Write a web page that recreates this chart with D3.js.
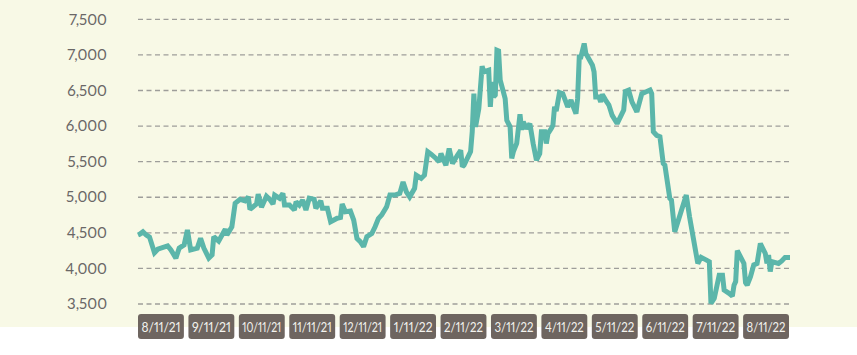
<!DOCTYPE html>
<html><head><meta charset="utf-8">
<script src="https://cdn.jsdelivr.net/npm/d3@7"></script>
<style>body{margin:0;background:#fff} text{font-feature-settings:"pnum" 1;font-variant-numeric:proportional-nums}</style>
</head><body><svg id="c" width="857" height="355"></svg>
<script>
// days since 8/11/21
const days = [0,1,3,5,7,10,12,18,20,23,25,28,30,32,36,38,40,43,45,46,49,53,54,57,59,62,65,67,68,72,73,75,78,80,82,83,86,88,89,92,95,96,98,100,102,104,107,108,111,112,115,117,121,123,124,126,129,131,133,135,137,139,142,144,146,148,151,153,156,159,161,163,165,168,169,172,174,176,178,181,183,184,187,189,191,194,196,197,198,202,203,204,205,207,209,210,213,214,215,216,217,218,219,220,223,224,226,227,228,230,232,233,234,236,238,240,242,244,245,247,248,249,251,252,253,254,256,258,261,263,264,266,267,268,269,271,272,276,277,278,280,281,282,284,286,288,291,293,295,296,298,300,303,306,309,311,312,313,315,317,319,320,323,324,326,333,335,340,342,345,347,348,350,353,355,356,359,361,362,363,364,368,369,370,372,374,376,378,381,382,383,384,385,389,391,393,396];
const values = [4470,4480,4515,4470,4440,4220,4270,4315,4260,4145,4285,4330,4540,4260,4285,4425,4285,4145,4190,4445,4385,4550,4470,4585,4915,4970,4950,5005,4830,4905,5045,4860,5015,4970,4905,5030,4985,5055,4890,4890,4820,4935,4890,4960,4820,4985,4970,4845,4950,4845,4845,4655,4705,4715,4905,4795,4805,4680,4420,4375,4305,4445,4490,4585,4700,4750,4865,5030,5030,5055,5215,5075,5005,5125,5310,5265,5310,5640,5605,5545,5497,5615,5450,5685,5475,5590,5660,5427,5450,5640,5920,6455,5990,6245,6840,6760,6785,6270,6620,6410,6435,7065,7055,6645,6385,6080,5990,5545,5640,5755,6165,5950,6060,5965,6035,5755,5520,5615,5920,5920,5755,5895,5965,6010,6270,6210,6470,6455,6270,6365,6295,6175,6385,6970,6970,7160,7020,6855,6760,6410,6410,6340,6445,6365,6295,6150,6035,6130,6225,6485,6505,6340,6200,6455,6485,6505,6455,5920,5870,5850,5475,5450,4985,4960,4515,5030,4725,4070,4155,4120,4095,3510,3580,3905,3905,3695,3650,3610,3765,3815,4250,4070,3800,3765,3885,4050,4070,4350,4210,4070,4190,3955,4095,4070,4105,4155,4155];
const monthLabels = ["8/11/21","9/11/21","10/11/21","11/11/21","12/11/21","1/11/22","2/11/22","3/11/22","4/11/22","5/11/22","6/11/22","7/11/22","8/11/22"];
const yTicks = [3500,4000,4500,5000,5500,6000,6500,7000,7500];

const svg = d3.select("#c");
svg.append("rect").attr("x",0).attr("y",0).attr("width",857).attr("height",327).attr("fill","#f8f9e6");

const x = d3.scaleLinear().domain([0,396]).range([138,790]);
const y = d3.scaleLinear().domain([3500,7500]).range([304,19.3]);
const xb = d3.scaleBand().domain(monthLabels).range([138,789]).paddingInner(0.09).paddingOuter(0);

// grid
svg.append("g").selectAll("line").data(yTicks).join("line")
  .attr("x1",138).attr("x2",790)
  .attr("y1",d=>y(d)).attr("y2",d=>y(d))
  .attr("stroke","#9e9e9a").attr("stroke-width",1.3).attr("stroke-dasharray","5,3.5");

// y labels
const fmt = d3.format(",");
svg.append("g").selectAll("text").data(yTicks).join("text")
  .attr("x",107).attr("y",d=>y(d)).attr("dy","0.35em")
  .attr("text-anchor","end")
  .attr("font-family","Lato, sans-serif").attr("font-size",15)
  .attr("fill","#6a6766")
  .text(d=>fmt(d));

// line
const pts = days.map((d,i)=>({d, v: values[i]}));
svg.append("path").datum(pts)
  .attr("fill","none").attr("stroke","#5bb6aa").attr("stroke-width",5)
  .attr("stroke-linejoin","miter").attr("stroke-miterlimit",2)
  .attr("d", d3.line().x(p=>x(p.d)).y(p=>y(p.v)));

// month boxes
const g = svg.append("g").selectAll("g").data(monthLabels).join("g")
  .attr("transform",d=>`translate(${xb(d)},314)`);
g.append("rect").attr("width",xb.bandwidth()).attr("height",25).attr("rx",3)
  .attr("fill","#6e6560");
g.append("text").attr("x",xb.bandwidth()/2).attr("y",12.8).attr("dy","0.35em")
  .attr("text-anchor","middle")
  .attr("font-family","Lato, sans-serif").attr("font-size",13.5)
  .attr("fill","#f3f3ee")
  .text(d=>d)
  .each(function(){
    const maxW = xb.bandwidth() - 7;
    const w = this.getComputedTextLength();
    if (w > maxW) d3.select(this).attr("textLength", maxW).attr("lengthAdjust","spacingAndGlyphs");
  });
</script>
</body></html>
